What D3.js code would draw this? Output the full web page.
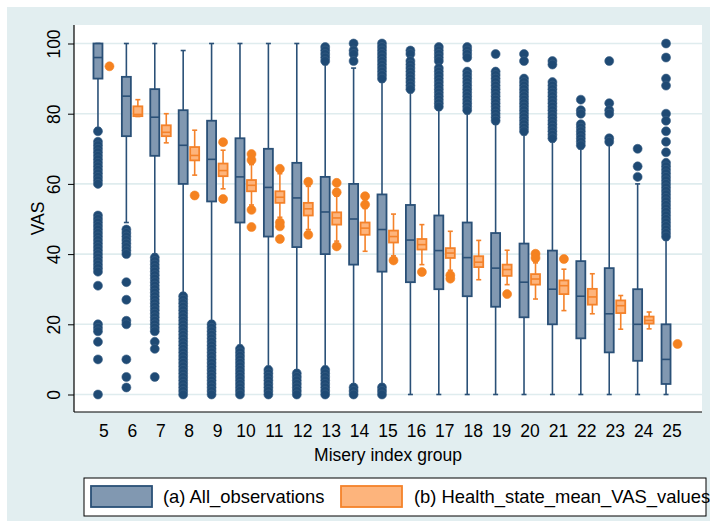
<!DOCTYPE html>
<html>
<head>
<meta charset="utf-8">
<script src="https://cdn.jsdelivr.net/npm/d3@7"></script>
<style>
  body { margin: 0; background: #fff; }
  text { font-family: "Liberation Sans", Arial, sans-serif; fill: #000; }
</style>
</head>
<body>
<div id="chart"></div>
<script>
// Misery index groups
const categories = [5, 6, 7, 8, 9, 10, 11, 12, 13, 14, 15, 16, 17, 18, 19, 20, 21, 22, 23, 24, 25];
const yTicks = [0, 20, 40, 60, 80, 100];

// (a) All_observations
const allLow    = [76, 49, 40, 29, 21, 14, 8, 7, 8, 3, 3, 0, 0, 0, 0, 0, 0, 0, 0, 0, 0];
const allQ1     = [90, 73.6, 68, 60, 55, 49, 45, 42, 40, 37, 35, 32, 30, 28, 25, 22, 20, 16, 12, 9.6, 3];
const allMedian = [96, 85, 79, 71, 67, 62, 59, 56, 52, 50, 47, 44, 41, 39, 36, 32, 30, 28, 23, 20, 10];
const allQ3     = [100, 90.5, 87, 81, 78, 73, 70, 66, 62, 60, 57, 54, 51, 49, 46, 43, 41, 38, 36, 30, 20];
const allHigh   = [100, 100, 100, 98, 100, 100, 100, 100, 94, 93, 89, 86, 81, 80, 77, 74, 72, 70, 71, 60, 44];
const allOutliers = [
  [75, 72, 71, 70, 69, 68, 67, 66, 65, 64, 63, 62, 61, 60, 51, 50, 49, 48, 47, 46, 45, 44, 43, 42, 41, 40, 39, 38, 37, 36, 35, 31, 20, 19, 18, 15, 10, 0],
  [47, 46, 45, 44, 43, 42, 41, 40, 32, 27, 21, 20, 10, 5, 2],
  [39, 38, 37, 36, 35, 34, 33, 32, 31, 30, 29, 28, 27, 26, 25, 24, 23, 22, 21, 20, 19, 18, 15, 13, 5],
  [28, 27, 26, 25, 24, 23, 22, 21, 20, 19, 18, 17, 16, 15, 14, 13, 12, 11, 10, 9, 8, 7, 6, 5, 4, 3, 2, 1, 0],
  [20, 19, 18, 17, 16, 15, 14, 13, 12, 11, 10, 9, 8, 7, 6, 5, 4, 3, 2, 1, 0],
  [13, 12, 11, 10, 9, 8, 7, 6, 5, 4, 3, 2, 1, 0],
  [7, 6, 5, 4, 3, 2, 1, 0],
  [6, 5, 4, 3, 2, 1, 0],
  [99, 98, 97, 96, 95, 7, 6, 5, 4, 3, 2, 1, 0],
  [100, 98, 97, 95, 2, 1, 0],
  [100, 99, 98, 97, 96, 95, 94, 93, 92, 91, 90, 2, 1, 0],
  [98, 97, 95, 94, 93, 92, 91, 90, 89, 88, 87],
  [99, 98, 97, 96, 95, 93, 92, 91, 90, 89, 88, 87, 86, 85, 84, 83, 82],
  [99, 98, 97, 96, 92, 91, 90, 89, 88, 87, 86, 85, 84, 83, 82, 81],
  [97, 92, 91, 90, 89, 88, 87, 86, 85, 84, 83, 82, 81, 80, 79, 78],
  [97, 95, 90, 89, 88, 87, 86, 85, 84, 83, 82, 81, 80, 79, 78, 77, 76, 75],
  [95, 94, 89, 88, 87, 86, 85, 84, 83, 82, 81, 80, 79, 78, 77, 76, 75, 74, 73],
  [84, 81, 80, 77, 76, 75, 74, 73, 72, 71],
  [95, 83, 81, 80, 73, 72],
  [70, 65, 62],
  [100, 96, 90, 88, 80, 78, 75, 72, 69, 66, 65, 64, 63, 62, 61, 60, 59, 58, 57, 56, 55, 54, 53, 52, 51, 50, 49, 48, 47, 46, 45]
];

// (b) Health_state_mean_VAS_values (null = single value, no box)
const hsLow    = [null, 79.2, 71.7, 62.5, 58.6, 54, 50.5, 47, 43.7, 40.8, 39.5, 37, 35.4, 32.7, 31.3, 27.2, 23.9, 23, 18.6, 18.7, null];
const hsQ1     = [null, 79.3, 73.6, 66.7, 62.2, 57.9, 54.6, 51, 48.4, 45.5, 43.3, 41.3, 38.9, 36.3, 33.8, 31.3, 28.6, 25.6, 23.2, 20.2, null];
const hsMedian = [null, 79.8, 74.7, 68.1, 63.8, 59.6, 56.2, 52.9, 50.3, 47.4, 45, 42.7, 40.3, 37.7, 35.6, 32.9, 31, 27.8, 25.3, 21.1, null];
const hsQ3     = [null, 82.1, 76.7, 70.5, 65.8, 61.1, 57.9, 54.6, 51.9, 49, 46.7, 44.3, 41.7, 39.4, 37, 34.3, 32.5, 30.1, 26.8, 22.2, null];
const hsHigh   = [null, 84, 80, 75.3, 69.6, 65.5, 62.9, 59.3, 56.5, 53, 51.4, 48.4, 46.5, 43.9, 41.1, 37.5, 35.7, 34.4, 28.2, 23.5, null];
const hsOutliers = [
  [93.5], [], [], [56.7], [71.9, 55.7], [68.5, 66.8, 52.6, 47.7], [64.3, 49, 47.9, 44.3], [60.6, 45.5],
  [60.3, 57.6, 42.2], [56.5, 54.1], [38.2], [34.9], [34, 33], [], [28.6], [40.1, 38.9], [38.6], [], [], [], [14.4]
];

const W = 710, H = 521;
const plot = { left: 74, right: 702, top: 25, bottom: 412 };

const blue = { fill: "#8198b1", stroke: "#2a5077", dot: "#1f4a74" };
const orange = { fill: "#fdb47c", stroke: "#f4822a", dot: "#f58220" };

const svg = d3.select("#chart").append("svg")
    .attr("width", W).attr("height", H);

// graph region background
svg.append("rect").attr("x", 7).attr("y", 7).attr("width", W - 7).attr("height", H - 7)
    .attr("fill", "#e2eef0");
// plot region
svg.append("rect").attr("x", plot.left).attr("y", plot.top)
    .attr("width", plot.right - plot.left).attr("height", plot.bottom - plot.top)
    .attr("fill", "#fff");

const x = d3.scalePoint().domain(categories).range([plot.left, plot.right]).padding(1.055);
const y = d3.scaleLinear().domain([0, 100]).range([394.5, 43.5]);

// gridlines
svg.append("g").selectAll("line").data(yTicks).join("line")
    .attr("x1", plot.left).attr("x2", plot.right)
    .attr("y1", d => y(d)).attr("y2", d => y(d))
    .attr("stroke", "#dfecee").attr("stroke-width", 1.6);

// y axis, labels rotated like Stata
const yAxis = svg.append("g").attr("transform", `translate(${plot.left},0)`)
    .call(d3.axisLeft(y).tickValues(yTicks).tickSize(6).tickPadding(0).tickFormat(d3.format("d")));
yAxis.select(".domain").remove();
yAxis.selectAll(".tick line").attr("stroke", "#000");
yAxis.selectAll(".tick text")
    .attr("x", 0).attr("y", 0).attr("dy", 0)
    .attr("transform", "translate(-14,0) rotate(-90)")
    .attr("text-anchor", "middle")
    .attr("font-family", null)
    .style("font-size", "17.5px");

svg.append("line").attr("x1", plot.left).attr("x2", plot.left)
    .attr("y1", plot.top).attr("y2", plot.bottom).attr("stroke", "#000").attr("stroke-width", 1.2);
svg.append("line").attr("x1", plot.left).attr("x2", plot.right)
    .attr("y1", plot.bottom).attr("y2", plot.bottom).attr("stroke", "#000").attr("stroke-width", 1.2);

// x tick labels
svg.append("g").selectAll("text").data(categories).join("text")
    .attr("x", d => x(d)).attr("y", 437)
    .attr("text-anchor", "middle").style("font-size", "17.5px")
    .text(d => d);

// axis titles
svg.append("text").attr("x", (plot.left + plot.right) / 2).attr("y", 461)
    .attr("text-anchor", "middle").style("font-size", "17.5px").text("Misery index group");
svg.append("text").attr("transform", `translate(43.5,${(plot.top + plot.bottom) / 2}) rotate(-90)`)
    .attr("text-anchor", "middle").style("font-size", "17.5px").text("VAS");

const boxW = 9, capW = 5;

function drawBox(g, cx, lo, q1, med, q3, hi, c) {
  g.append("line").attr("x1", cx).attr("x2", cx).attr("y1", y(hi)).attr("y2", y(lo))
      .attr("stroke", c.stroke).attr("stroke-width", 1.6);
  [lo, hi].forEach(v => g.append("line")
      .attr("x1", cx - capW / 2).attr("x2", cx + capW / 2).attr("y1", y(v)).attr("y2", y(v))
      .attr("stroke", c.stroke).attr("stroke-width", 1.6));
  g.append("rect").attr("x", cx - boxW / 2).attr("y", y(q3))
      .attr("width", boxW).attr("height", Math.max(y(q1) - y(q3), 1))
      .attr("fill", c.fill).attr("stroke", c.stroke).attr("stroke-width", 1.8);
  g.append("line").attr("x1", cx - boxW / 2).attr("x2", cx + boxW / 2)
      .attr("y1", y(med)).attr("y2", y(med))
      .attr("stroke", c.stroke).attr("stroke-width", 1.6);
}

function drawDots(g, cx, vals, c) {
  g.selectAll(null).data(vals).join("circle")
      .attr("cx", cx).attr("cy", d => y(d)).attr("r", 4.5)
      .attr("fill", c.dot).attr("stroke", c === blue ? "#3d6287" : c.dot).attr("stroke-width", 0.6);
}

const marks = svg.append("g");
categories.forEach((cat, i) => {
  const bx = x(cat) - 6, ox = x(cat) + 5.5;
  drawBox(marks, bx, allLow[i], allQ1[i], allMedian[i], allQ3[i], allHigh[i], blue);
  drawDots(marks.append("g"), bx, allOutliers[i], blue);
  if (hsQ1[i] !== null) {
    drawBox(marks, ox, hsLow[i], hsQ1[i], hsMedian[i], hsQ3[i], hsHigh[i], orange);
  }
  drawDots(marks.append("g"), ox, hsOutliers[i], orange);
});

// legend
const leg = svg.append("g");
leg.append("rect").attr("x", 84).attr("y", 478).attr("width", 622).attr("height", 38)
    .attr("fill", "#fff").attr("stroke", "#000").attr("stroke-width", 1);
leg.append("rect").attr("x", 91).attr("y", 486).attr("width", 61).attr("height", 21)
    .attr("fill", blue.fill).attr("stroke", blue.stroke).attr("stroke-width", 1.8);
leg.append("text").attr("x", 163).attr("y", 503).style("font-size", "18.4px").text("(a) All_observations");
leg.append("rect").attr("x", 341).attr("y", 486).attr("width", 61).attr("height", 21)
    .attr("fill", orange.fill).attr("stroke", orange.stroke).attr("stroke-width", 1.8);
leg.append("text").attr("x", 414).attr("y", 503).style("font-size", "18.4px").text("(b) Health_state_mean_VAS_values");
</script>
</body>
</html>
